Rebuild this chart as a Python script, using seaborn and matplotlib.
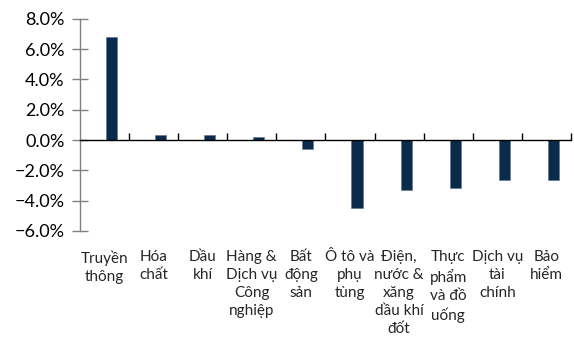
import matplotlib
matplotlib.use("Agg")
import matplotlib.pyplot as plt
import seaborn as sns
import pandas as pd
import numpy as np
from matplotlib.ticker import FixedLocator, PercentFormatter

sectors = [
    "Truyền\nthông", "Hóa\nchất", "Dầu\nkhí", "Hàng &\nDịch vụ\nCông\nnghiệp",
    "Bất\nđộng\nsản", "Ô tô và\nphụ\ntùng", "Điện,\nnước &\nxăng\ndầu khí\nđốt",
    "Thực\nphẩm\nvà đồ\nuống", "Dịch vụ\ntài\nchính", "Bảo\nhiểm",
]
changes = [6.82, 0.33, 0.30, 0.20, -0.57, -4.47, -3.32, -3.15, -2.64, -2.64]
y_ticks = [-6, -4, -2, 0, 2, 4, 6, 8]

sns.set_theme(style="white")
plt.rcParams["font.family"] = ["Lato", "DejaVu Sans"]

df = pd.DataFrame({"sector": sectors, "change": changes, "series": "Ngành"})

fig = plt.figure(figsize=(5.74, 3.38), dpi=100)
ax = fig.add_axes([0.139, 0.317, 0.856, 0.627])

sns.barplot(data=df, x="sector", y="change", hue="series",
            hue_order=["", "Ngành"], palette=["#002B55", "#002B55"],
            order=sectors, width=0.57, gap=0.2, dodge=True, legend=False, ax=ax,
            edgecolor="#5a7391", linewidth=0.4)

ax.set_xlim(-0.5, len(sectors) - 0.5)
ax.set_ylim(-6, 8)
ax.set_xlabel("")
ax.set_ylabel("")

# y axis
ax.yaxis.set_major_locator(FixedLocator(y_ticks))
ax.yaxis.set_major_formatter(PercentFormatter(decimals=1))
ax.tick_params(axis="y", direction="inout", length=12, width=1, color="#808080",
               labelsize=13, labelcolor="black", pad=5, left=True)
ax.spines["left"].set_color("#808080")
ax.spines["left"].set_linewidth(1)
for s in ["top", "right"]:
    ax.spines[s].set_visible(False)

# x axis line at zero with boundary ticks
ax.spines["bottom"].set_position(("data", 0))
ax.spines["bottom"].set_color("black")
ax.spines["bottom"].set_linewidth(1)
ax.xaxis.set_minor_locator(FixedLocator(np.arange(0.5, len(sectors), 1.0)))
ax.tick_params(axis="x", which="minor", direction="in", length=5, width=1,
               color="black", bottom=True)
ax.tick_params(axis="x", which="major", length=0, labelbottom=False)

# category labels at the bottom of the plot area
sec = ax.secondary_xaxis("bottom")
sec.set_xticks(range(len(sectors)))
sec.set_xticklabels(sectors, fontsize=11, linespacing=1.36, va="top")
sec.tick_params(length=0, pad=14)
sec.spines["bottom"].set_visible(False)

fig.savefig("out.png", dpi=100)
